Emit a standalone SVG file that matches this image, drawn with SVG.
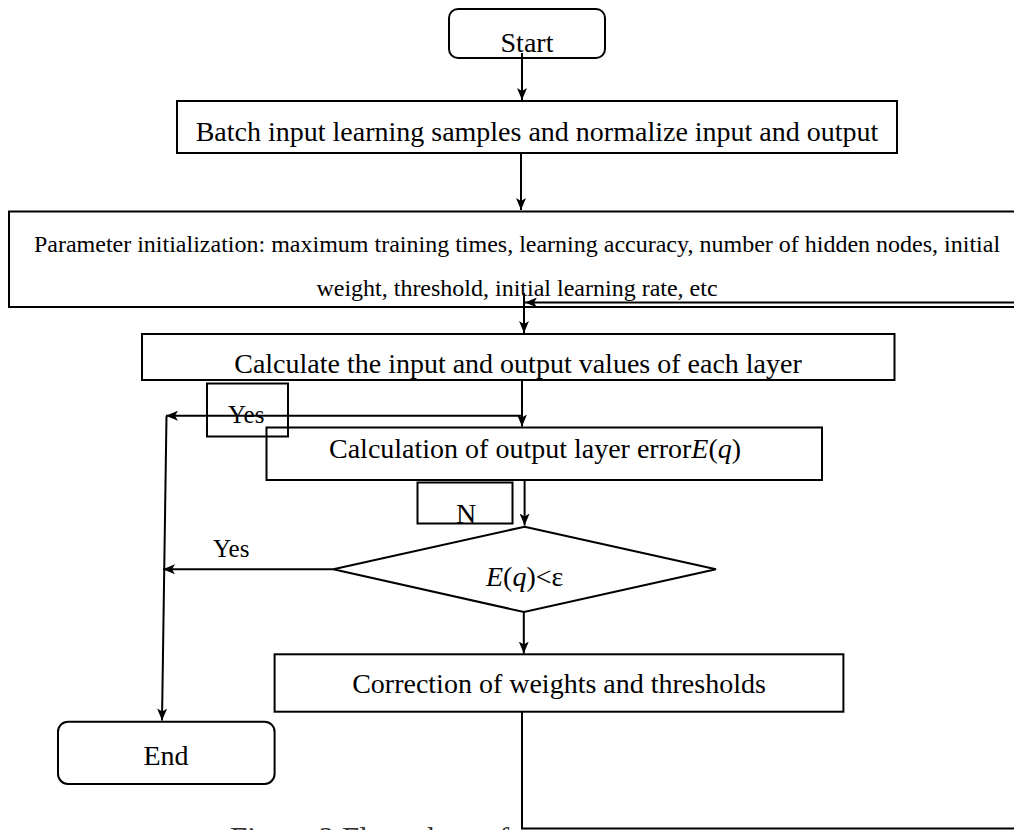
<svg xmlns="http://www.w3.org/2000/svg" width="1014" height="830" viewBox="0 0 1014 830">
<style>
.box{fill:none;stroke:#000;stroke-width:2}
.t{font-family:"Liberation Serif","Times New Roman",serif;fill:#000;font-size:28px}
.p{font-size:24px}
.y{font-size:25px}
.i{font-style:italic}
.c{fill:none;stroke:#000;stroke-width:2}
</style>
<defs>
<marker id="ah" markerUnits="userSpaceOnUse" markerWidth="13" markerHeight="10" refX="12" refY="5" orient="auto">
<path d="M0,0 L12,5 L0,10 L3,5 Z" fill="#000"/>
</marker>
</defs>
<rect width="1014" height="830" fill="#fff"/>
<g id="start"><rect class="box" x="449" y="9" width="156" height="49" rx="9"/><text class="t" x="527" y="52" text-anchor="middle">Start</text></g>
<g id="batch"><rect class="box" x="177" y="101" width="720" height="52"/><text class="t" x="537" y="141" text-anchor="middle">Batch input learning samples and normalize input and output</text></g>
<g id="param"><rect class="box" x="9" y="211.5" width="1030" height="95.5"/><text class="t p" x="517" y="252" text-anchor="middle">Parameter initialization: maximum training times, learning accuracy, number of hidden nodes, initial</text><text class="t p" x="517" y="296" text-anchor="middle">weight, threshold, initial learning rate, etc</text></g>
<g id="calc"><rect class="box" x="142" y="334" width="752.5" height="46"/><text class="t" x="518" y="373" text-anchor="middle">Calculate the input and output values of each layer</text></g>
<g id="yes1"><rect class="box" x="207" y="383.5" width="81" height="53"/><text class="t y" x="228" y="423">Yes</text></g>
<g id="error"><rect class="box" x="266.5" y="427.5" width="555.5" height="52.5"/><text class="t" x="329" y="458">Calculation of output layer error<tspan class="i">E</tspan>(<tspan class="i">q</tspan>)</text></g>
<g id="nlabel"><rect class="box" x="417.5" y="482.5" width="95" height="41"/><text class="t" x="456" y="522.5">N</text></g>
<g id="decision"><polygon class="box" points="524.6,526.7 716,569.3 524,612 333.3,569.3"/><text class="t" x="486" y="586"><tspan class="i">E</tspan>(<tspan class="i">q</tspan>)&lt;ε</text></g>
<g id="yes2"><text class="t y" x="213" y="557">Yes</text></g>
<g id="correct"><rect class="box" x="274.6" y="654.3" width="568.8" height="57.4"/><text class="t" x="559" y="693" text-anchor="middle">Correction of weights and thresholds</text></g>
<g id="end"><rect class="box" x="58" y="721.7" width="216.6" height="62.3" rx="10"/><text class="t" x="166" y="765" text-anchor="middle">End</text></g>
<g id="caption"><text class="t" x="230" y="849" style="font-size:31px;fill:#333">Figure 2 Flow chart of</text></g>
<g id="connectors">
<path class="c" d="M522,53 V100" marker-end="url(#ah)"/>
<path class="c" d="M521,153 V210" marker-end="url(#ah)"/>
<path class="c" d="M524,293 V333" marker-end="url(#ah)"/>
<path class="c" d="M522,380 V426.5" marker-end="url(#ah)"/>
<path class="c" d="M522,415.7 H166" marker-end="url(#ah)"/>
<path class="c" d="M166.5,415.7 L162,720.5" marker-end="url(#ah)"/>
<path class="c" d="M524.6,480 V525.5" marker-end="url(#ah)"/>
<path class="c" d="M333.3,569.3 H163" marker-end="url(#ah)"/>
<path class="c" d="M523.8,612 V653.5" marker-end="url(#ah)"/>
<path class="c" d="M522,711.7 V828.5 H1040 V302.5 H525" marker-end="url(#ah)"/>
</g>
</svg>
